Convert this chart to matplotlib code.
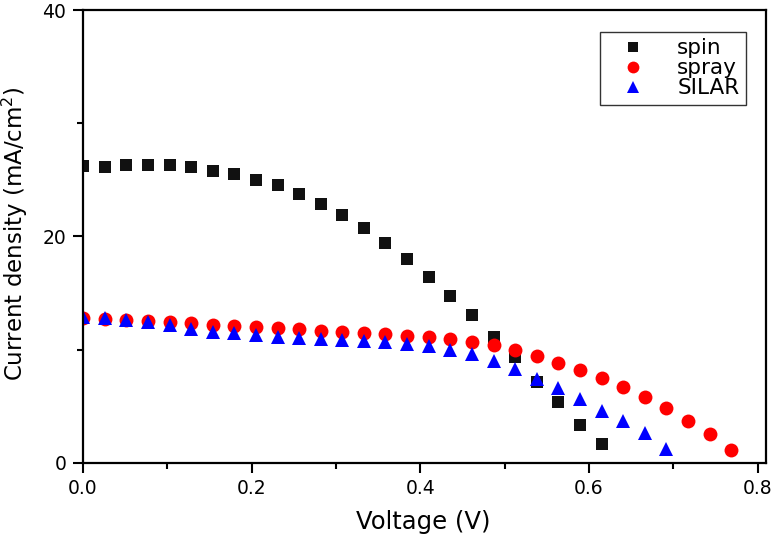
import matplotlib
matplotlib.use("Agg")
import matplotlib.pyplot as plt
from matplotlib.ticker import MultipleLocator

# ---- data ----
voltage = [0.000, 0.026, 0.051, 0.077, 0.103, 0.128, 0.154, 0.179, 0.205, 0.231,
           0.256, 0.282, 0.307, 0.333, 0.358, 0.384, 0.410, 0.435, 0.461, 0.487,
           0.512, 0.538, 0.563, 0.589, 0.615, 0.640, 0.666, 0.691, 0.717, 0.743,
           0.768]

spin = [26.2, 26.1, 26.3, 26.3, 26.3, 26.1, 25.8, 25.5, 25.0, 24.5,
        23.7, 22.9, 21.9, 20.7, 19.4, 18.0, 16.4, 14.7, 13.05, 11.1,
        9.3, 7.1, 5.4, 3.3, 1.65]

spray = [12.8, 12.7, 12.6, 12.5, 12.43, 12.3, 12.2, 12.1, 12.0, 11.87,
         11.78, 11.66, 11.55, 11.43, 11.37, 11.2, 11.1, 10.95, 10.7, 10.37,
         9.96, 9.43, 8.83, 8.19, 7.45, 6.66, 5.78, 4.86, 3.68, 2.56,
         1.15]

silar = [12.85, 12.75, 12.6, 12.4, 12.14, 11.84, 11.57, 11.43, 11.25, 11.07,
         10.99, 10.9, 10.84, 10.78, 10.65, 10.49, 10.3, 10.0, 9.6, 9.0,
         8.25, 7.4, 6.57, 5.65, 4.57, 3.68, 2.65, 1.24]

plt.rcParams['font.family'] = ['DejaVu Sans']

fig = plt.figure(figsize=(7.74, 5.37), dpi=100)
ax = fig.add_axes([83/774, 1 - 462.7/537, 683/774, 452.7/537])

ax.plot(voltage[:len(spin)], spin, 's', color='#111111', ms=8.6, mew=0, label='spin')
ax.plot(voltage[:len(spray)], spray, 'o', color='#ff0000', ms=10, mew=0, label='spray')
ax.plot(voltage[:len(silar)], silar, '^', color='#0000ff', ms=10, mew=0, label='SILAR')

ax.set_xlim(0, 0.81)
ax.set_ylim(0, 40)

ax.xaxis.set_major_locator(MultipleLocator(0.2))
ax.xaxis.set_minor_locator(MultipleLocator(0.1))
ax.yaxis.set_major_locator(MultipleLocator(20))
ax.yaxis.set_minor_locator(MultipleLocator(10))
ax.xaxis.set_major_formatter(plt.FuncFormatter(lambda v, p: '%.1f' % v))

ax.tick_params(which='major', direction='out', length=7, width=1.5, labelsize=13.5, pad=5)
ax.tick_params(which='minor', direction='out', length=4.5, width=1.5)
ax.tick_params(top=False, right=False)
for s in ax.spines.values():
    s.set_linewidth(1.6)

ax.set_xlabel('Voltage (V)', fontsize=17.5)
ax.set_ylabel('Current density (mA/cm$^2$)', fontsize=16.5)
ax.xaxis.set_label_coords(0.4985, -0.105)
ax.yaxis.set_label_coords(-0.078, 0.506)

leg = ax.legend(loc='upper right', bbox_to_anchor=(746/774, 1 - 31.7/537),
                bbox_transform=fig.transFigure, fontsize=15.5, frameon=True,
                fancybox=False, edgecolor='black', borderpad=0.3,
                labelspacing=0.0, handlelength=2.45, handletextpad=0.85,
                markerscale=0.85, borderaxespad=0)
leg.get_frame().set_linewidth(1.0)

fig.savefig('out.png', dpi=100)
